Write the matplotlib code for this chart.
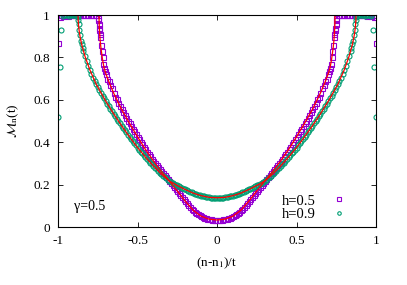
import numpy as np
import matplotlib.pyplot as plt

plt.rcParams['font.family'] = ['Liberation Serif', 'DejaVu Serif']
plt.rcParams['mathtext.fontset'] = 'stix'

# data for x >= 0 in steps of 0.01 (chart is symmetric about x = 0)
x_half = [round(0.01 * i, 2) for i in range(101)]

m_h05 = [0.033, 0.033, 0.034, 0.035, 0.036, 0.037, 0.039, 0.041, 0.044, 0.047,
         0.051, 0.055, 0.060, 0.066, 0.072, 0.079, 0.087, 0.095, 0.104, 0.113,
         0.122, 0.131, 0.141, 0.150, 0.160, 0.170, 0.179, 0.189, 0.198, 0.208,
         0.217, 0.226, 0.235, 0.244, 0.253, 0.262, 0.272, 0.281, 0.291, 0.301,
         0.312, 0.322, 0.333, 0.344, 0.355, 0.366, 0.378, 0.390, 0.402, 0.414,
         0.426, 0.438, 0.451, 0.463, 0.476, 0.489, 0.502, 0.515, 0.528, 0.541,
         0.555, 0.570, 0.585, 0.604, 0.613, 0.632, 0.654, 0.668, 0.690, 0.700,
         0.722, 0.752, 0.800, 0.860, 0.930, 0.985, 1.000, 1.000, 1.000, 1.000,
         1.000, 1.000, 1.000, 1.000, 1.000, 1.000, 1.000, 1.000, 1.000, 1.000,
         1.000, 1.000, 1.000, 1.000, 0.998, 1.000, 1.000, 0.998, 1.000, 0.990,
         0.870]

m_h09 = [0.138, 0.138, 0.138, 0.139, 0.139, 0.140, 0.141, 0.142, 0.144, 0.146,
         0.148, 0.150, 0.153, 0.155, 0.158, 0.161, 0.164, 0.167, 0.170, 0.173,
         0.177, 0.180, 0.184, 0.188, 0.192, 0.196, 0.200, 0.204, 0.208, 0.212,
         0.217, 0.223, 0.230, 0.236, 0.243, 0.250, 0.257, 0.264, 0.272, 0.280,
         0.288, 0.296, 0.304, 0.312, 0.321, 0.329, 0.338, 0.347, 0.356, 0.365,
         0.375, 0.385, 0.395, 0.405, 0.415, 0.425, 0.436, 0.446, 0.457, 0.467,
         0.478, 0.489, 0.500, 0.511, 0.523, 0.534, 0.546, 0.558, 0.570, 0.582,
         0.594, 0.607, 0.620, 0.633, 0.646, 0.660, 0.674, 0.689, 0.705, 0.723,
         0.742, 0.762, 0.782, 0.805, 0.832, 0.862, 0.905, 0.960, 0.995, 1.000,
         1.000, 1.000, 1.000, 0.998, 1.000, 1.000, 1.000, 0.998, 0.930, 0.756,
         0.520]

# extra data points on the steep rise near the edges
x_extra_h05 = [0.705, 0.715, 0.725, 0.735, 0.738, 0.742, 0.745, 0.747]
m_extra_h05 = [0.735, 0.770, 0.830, 0.895, 0.910, 0.940, 0.960, 0.975]
x_extra_h09 = [0.845, 0.855, 0.865, 0.872, 0.875]
m_extra_h09 = [0.846, 0.880, 0.930, 0.975, 0.990]

# theory curves (red lines)
xt_h05 = [0.0, 0.05, 0.1, 0.15, 0.2, 0.25, 0.3, 0.35, 0.4, 0.45, 0.5, 0.55,
          0.6, 0.65, 0.68, 0.70, 0.71, 0.72, 0.73, 0.735, 0.74, 0.7415, 0.742, 1.0]
t_h05 = [0.033, 0.037, 0.051, 0.079, 0.122, 0.170, 0.217, 0.262, 0.312, 0.366,
         0.426, 0.489, 0.555, 0.632, 0.685, 0.725, 0.750, 0.790, 0.845, 0.880,
         0.937, 0.970, 1.0, 1.0]

xt_h09 = [0.0, 0.05, 0.1, 0.15, 0.2, 0.25, 0.3, 0.35, 0.4, 0.45, 0.5, 0.55,
          0.6, 0.65, 0.7, 0.76, 0.8, 0.83, 0.85, 0.86, 0.865, 0.87, 0.873, 0.874, 1.0]
t_h09 = [0.138, 0.140, 0.148, 0.160, 0.177, 0.196, 0.217, 0.250, 0.288, 0.330,
         0.375, 0.425, 0.478, 0.534, 0.594, 0.674, 0.742, 0.805, 0.858, 0.893,
         0.915, 0.945, 0.975, 1.0, 1.0]


def mirror(x, y):
    x = np.asarray(x)
    y = np.asarray(y)
    return np.concatenate([-x[::-1], x[1:]]), np.concatenate([y[::-1], y[1:]])


fig = plt.figure(figsize=(4.07, 2.85), dpi=100)
ax = fig.add_axes([0.1425, 0.2035, 0.924 - 0.1425, 0.947 - 0.2035])

x5, y5 = mirror(x_half, m_h05)
x9, y9 = mirror(x_half, m_h09)
x5 = np.concatenate([x5, x_extra_h05, -np.asarray(x_extra_h05)])
y5 = np.concatenate([y5, m_extra_h05, m_extra_h05])
x9 = np.concatenate([x9, x_extra_h09, -np.asarray(x_extra_h09)])
y9 = np.concatenate([y9, m_extra_h09, m_extra_h09])
ax.plot(x5, y5, 's', ms=3.6, mfc='none', mec='#9400d3', mew=0.8, label='h=0.5')
ax.plot(x9, y9, 'o', ms=3.6, mfc='none', mec='#009e73', mew=0.8, label='h=0.9')

tx5, ty5 = mirror(xt_h05, t_h05)
tx9, ty9 = mirror(xt_h09, t_h09)
ax.plot(tx5, ty5, '-', color='red', lw=0.9)
ax.plot(tx9, ty9, '-', color='red', lw=0.9)

ax.set_xlim(-1, 1)
ax.set_ylim(0, 1)
ax.set_xticks([-1, -0.5, 0, 0.5, 1])
ax.set_xticklabels(['-1', '-0.5', '0', '0.5', '1'])
ax.set_yticks([0, 0.2, 0.4, 0.6, 0.8, 1])
ax.set_yticklabels(['0', '0.2', '0.4', '0.6', '0.8', '1'])
ax.tick_params(direction='in', top=True, right=True, length=3.5, width=0.6,
               labelsize=9.5, pad=6)
for s in ax.spines.values():
    s.set_linewidth(0.8)

ax.set_xlabel(r'(n-n$_1$)/t', fontsize=9.5, labelpad=6)
ax.set_ylabel(r'$\mathcal{M}_\mathrm{n}$(t)', fontsize=9.5, labelpad=9)
ax.text(-0.9, 0.095, 'γ=0.5', fontsize=10, va='center')

leg = ax.legend(loc='lower right', bbox_to_anchor=(0.93, -0.005), frameon=False,
                markerfirst=False, fontsize=10.5, handlelength=1.0, handletextpad=1.1,
                labelspacing=0.0, borderpad=0.0, markerscale=0.7)
for t in leg.get_texts():
    t.set_ha('right')

fig.savefig('out.png', dpi=100)
